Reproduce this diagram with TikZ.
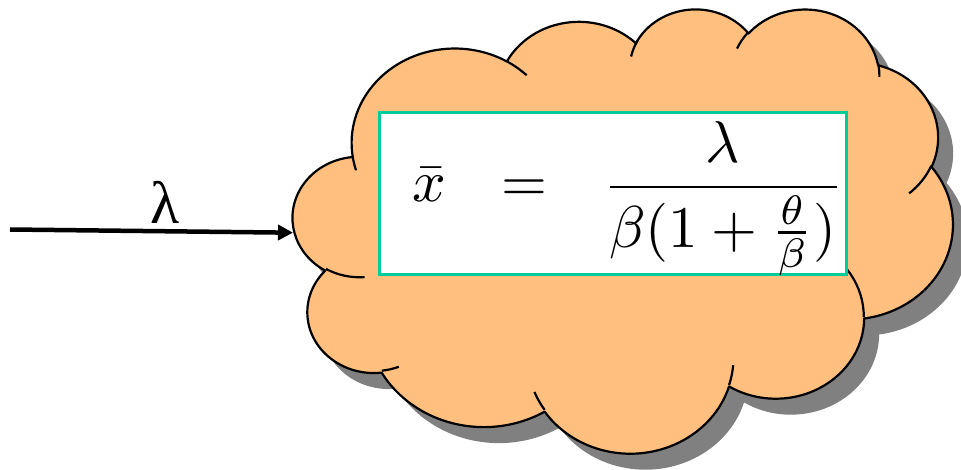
\documentclass[tikz,border=0pt]{standalone}
\usepackage[no-math]{fontspec}
\usetikzlibrary{arrows.meta}
\newfontfamily\lamfont{Liberation Serif}
\definecolor{cloudfill}{RGB}{255,191,127}
\definecolor{boxteal}{RGB}{0,204,153}
\definecolor{shadowgray}{RGB}{128,128,128}
% OOXML arcTo: visual angles -> parametric angles
\newcommand\calcarc[5]{%
  \pgfmathsetmacro\cldtmpA{atan2((#2)*sin(#4),(#3)*cos(#4))}%
  \pgfmathsetmacro\cldtmpB{atan2((#2)*sin((#4)+(#5)),(#3)*cos((#4)+(#5)))}%
  \pgfmathsetmacro\cldtmpD{mod(\cldtmpB-\cldtmpA-(#5)+540,360)-180}%
  \pgfmathsetmacro\cldtmpE{\cldtmpA+(#5)+\cldtmpD}%
  \expandafter\xdef\csname clds#1\endcsname{\cldtmpA}%
  \expandafter\xdef\csname clde#1\endcsname{\cldtmpE}%
}
\calcarc{a}{67.53}{91.90}{-190.4875}{123.7805}
\calcarc{b}{53.33}{72.67}{-144.1024}{89.9452}
\calcarc{c}{43.65}{59.45}{-145.8079}{99.7230}
\calcarc{d}{48.57}{65.95}{-130.9861}{117.2417}
\calcarc{e}{53.33}{72.73}{-78.7089}{109.0269}
\calcarc{f}{67.75}{92.20}{-46.2673}{130.2690}
\calcarc{g}{57.85}{78.67}{0.6250}{114.0333}
\calcarc{h}{67.52}{92.15}{22.4516}{115.1726}
\calcarc{i}{77.20}{105.43}{66.2426}{75.7110}
\calcarc{j}{43.60}{59.18}{-274.9421}{146.7356}
\calcarc{k}{43.45}{59.45}{-246.8285}{152.5189}
\calcarc{ta}{43.45}{59.45}{86.742}{26.4295}
\calcarc{tb}{43.60}{59.18}{73.6105}{11.4475}
\calcarc{tc}{67.52}{92.15}{137.6242}{14.0811}
\calcarc{td}{67.52}{92.15}{6.4533}{15.9984}
\calcarc{te}{57.85}{78.67}{-70.2924}{70.9174}
\calcarc{tf}{53.33}{72.73}{30.3180}{27.7515}
\calcarc{tg}{48.57}{65.95}{-13.7443}{14.8589}
\calcarc{th}{48.57}{65.95}{-149.1815}{18.1954}
\calcarc{ti}{43.65}{59.45}{-163.4943}{19.7898}
\calcarc{tj}{67.53}{91.90}{-66.7070}{12.3194}
\calcarc{tk}{67.53}{91.90}{157.6544}{11.8582}
\def\cloudpath{(39,143.7)
  arc[start angle=\cldsa,end angle=\cldea,x radius=67.53,y radius=91.90]
  arc[start angle=\cldsb,end angle=\cldeb,x radius=53.33,y radius=72.67]
  arc[start angle=\cldsc,end angle=\cldec,x radius=43.65,y radius=59.45]
  arc[start angle=\cldsd,end angle=\clded,x radius=48.57,y radius=65.95]
  arc[start angle=\cldse,end angle=\cldee,x radius=53.33,y radius=72.73]
  arc[start angle=\cldsf,end angle=\cldef,x radius=67.75,y radius=92.20]
  arc[start angle=\cldsg,end angle=\cldeg,x radius=57.85,y radius=78.67]
  arc[start angle=\cldsh,end angle=\cldeh,x radius=67.52,y radius=92.15]
  arc[start angle=\cldsi,end angle=\cldei,x radius=77.20,y radius=105.43]
  arc[start angle=\cldsj,end angle=\cldej,x radius=43.60,y radius=59.18]
  arc[start angle=\cldsk,end angle=\cldek,x radius=43.45,y radius=59.45]
  -- cycle}
\def\tailpath{
  (46.93,261.77) arc[start angle=\cldsta,end angle=\cldeta,x radius=43.45,y radius=59.45]
  (69.28,348.99) arc[start angle=\cldstb,end angle=\cldetb,x radius=43.60,y radius=59.18]
  (164.78,390.90) arc[start angle=\cldstc,end angle=\cldetc,x radius=67.52,y radius=92.15]
  (288.27,347.51) arc[start angle=\cldstd,end angle=\cldetd,x radius=67.52,y radius=92.15]
  (341.29,229.54) arc[start angle=\cldste,end angle=\cldete,x radius=57.85,y radius=78.67]
  (417.98,153.54) arc[start angle=\cldstf,end angle=\cldetf,x radius=53.33,y radius=72.73]
  (383.24,54.26) arc[start angle=\cldstg,end angle=\cldetg,x radius=48.57,y radius=65.95]
  (290.78,39.52) arc[start angle=\cldsth,end angle=\cldeth,x radius=48.57,y radius=65.95]
  (221.41,47.20) arc[start angle=\cldsti,end angle=\cldeti,x radius=43.65,y radius=59.45]
  (140.00,51.92) arc[start angle=\cldstj,end angle=\cldetj,x radius=67.53,y radius=91.90]
  (41.27,157.89) arc[start angle=\cldstk,end angle=\cldetk,x radius=67.53,y radius=91.90]}
\begin{document}
\begin{tikzpicture}[x=1pt,y=-1pt,
  cloudline/.style={line width=2.2pt,draw=black,line join=round},
  formula/.style={inner sep=0pt,scale=5.9,transform shape},
  tealbox/.style={draw=boxteal,fill=white,line width=2.7pt,inner sep=0pt,
    minimum width=467pt,minimum height=162pt},
  flow/.style={line width=4.5pt,-{Triangle[length=15pt,width=15pt]}}]
\useasboundingbox (0,0) rectangle (961,470);
\begin{scope}[xshift=293pt,yshift=-8pt,x=1.527pt,y=-1.028pt]
  \fill[shadowgray,xshift=15pt,yshift=-16pt] \cloudpath;
  \path[fill=cloudfill,cloudline] \cloudpath;
  \path[cloudline,line cap=butt] \tailpath;
\end{scope}
\node[tealbox] (box) at (613,193.5) {};
\node[formula,anchor=base] (xbar) at (429.5,202) {$\bar{x}$};
\node[formula,anchor=base] (eq) at (524,202) {$=$};
\node[formula,anchor=base] (frac) at (723,202) {$\displaystyle\frac{\lambda}{\beta(1+\frac{\theta}{\beta})}$};
\coordinate (src) at (10,229.5);
\coordinate (tip) at (293,232.7);
\draw[flow] (src) -- (tip);
\node (lab) at (165.5,202.5) {\lamfont\fontsize{60}{60}\selectfont λ};
\end{tikzpicture}
\end{document}
